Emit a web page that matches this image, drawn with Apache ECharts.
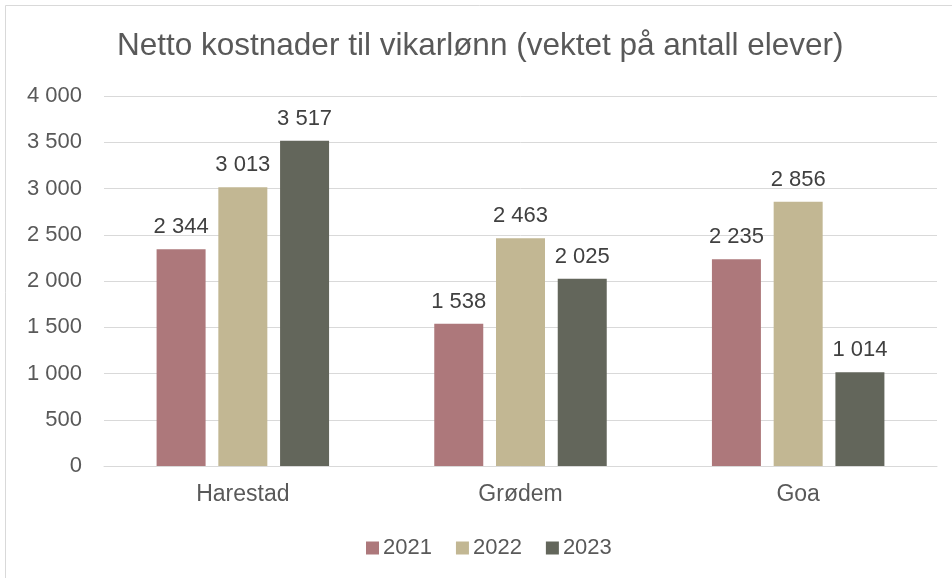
<!DOCTYPE html>
<html>
<head>
<meta charset="utf-8">
<script src="https://cdn.jsdelivr.net/npm/echarts@6/dist/echarts.min.js"></script>
<style>
html,body{margin:0;padding:0;background:#fff;}
#c{width:952px;height:578px;}
</style>
</head>
<body>
<div id="c"></div>
<script>
const categories = ['Harestad', 'Grødem', 'Goa'];
const seriesNames = ['2021', '2022', '2023'];
const values2021 = [2344, 1538, 2235];
const values2022 = [3013, 2463, 2856];
const values2023 = [3517, 2025, 1014];
const colors = ['#ad787b', '#c2b793', '#63665b'];
const yTicks = [0, 500, 1000, 1500, 2000, 2500, 3000, 3500, 4000];

function fmt(v) {
  return String(v).replace(/\B(?=(\d{3})+(?!\d))/g, ' ');
}

const chart = echarts.init(document.getElementById('c'), null, {renderer: 'canvas'});
const font = 'Liberation Sans, Arial, sans-serif';
const allValues = [values2021, values2022, values2023];

chart.setOption({
  animation: false,
  backgroundColor: '#ffffff',
  textStyle: {fontFamily: font},
  graphic: [{
    type: 'rect',
    shape: {x: 5.5, y: 5.5, width: 1000, height: 1000},
    style: {fill: 'none', stroke: '#d9d9d9', lineWidth: 1},
    silent: true, z: -1
  }],
  title: {
    text: 'Netto kostnader til vikarlønn (vektet på antall elever)',
    left: 112,
    top: 25,
    textStyle: {fontFamily: font, fontSize: 31.5, fontWeight: 'normal', color: '#595959'}
  },
  legend: {
    data: seriesNames,
    bottom: 14,
    left: 361,
    itemWidth: 13,
    itemHeight: 13,
    itemGap: 24,
    icon: 'rect',
    textStyle: {fontFamily: font, fontSize: 22, color: '#595959', padding: [0,0,0,-1]}
  },
  grid: {left: 104, right: 15, top: 96, bottom: 112, containLabel: false},
  xAxis: {
    type: 'category',
    data: categories,
    axisLine: {lineStyle: {color: '#d9d9d9', width: 1}},
    axisTick: {show: false},
    axisLabel: {fontFamily: font, fontSize: 23, color: '#595959', margin: 17}
  },
  yAxis: {
    type: 'value',
    min: yTicks[0],
    max: yTicks[yTicks.length - 1],
    interval: 500,
    axisLine: {show: false},
    axisTick: {show: false},
    splitLine: {lineStyle: {color: '#d9d9d9', width: 1}},
    axisLabel: {fontFamily: font, fontSize: 22, color: '#595959', margin: 22, formatter: v => fmt(v)}
  },
  series: seriesNames.map((name, i) => ({
    name: name,
    type: 'bar',
    data: allValues[i],
    barWidth: 49,
    barGap: '26%',
    itemStyle: {color: colors[i]},
    label: {
      show: true,
      position: 'top',
      distance: 11,
      fontFamily: font,
      fontSize: 22,
      color: '#404040',
      formatter: p => fmt(p.value)
    }
  }))
});
</script>
</body>
</html>
